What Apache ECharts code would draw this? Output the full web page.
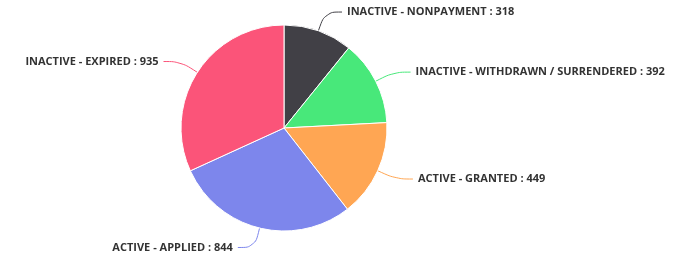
<!DOCTYPE html>
<html>
<head>
<meta charset="utf-8">
<script src="https://cdn.jsdelivr.net/npm/echarts@6/dist/echarts.min.js"></script>
<style>
  html, body { margin: 0; padding: 0; background: #fff; }
  #main { width: 682px; height: 260px; }
</style>
</head>
<body>
<div id="main"></div>
<script>
var categories = [
  "INACTIVE - NONPAYMENT",
  "INACTIVE - WITHDRAWN / SURRENDERED",
  "ACTIVE - GRANTED",
  "ACTIVE - APPLIED",
  "INACTIVE - EXPIRED"
];
var values = [318, 392, 449, 844, 935];
var colors = ["#414046", "#48e87a", "#ffa653", "#7d86ec", "#fb5479"];

var chart = echarts.init(document.getElementById("main"), null, { renderer: "canvas" });

var data = categories.map(function (name, i) {
  return { name: name, value: values[i], itemStyle: { color: colors[i] } };
});

var option = {
  animation: false,
  series: [
    {
      type: "pie",
      center: [284, 128],
      radius: 103,
      startAngle: 90,
      clockwise: true,
      data: data,
      itemStyle: { borderColor: "#fff", borderWidth: 1 },
      label: {
        formatter: "{b} : {c}",
        fontFamily: "Open Sans",
        fontWeight: "bold",
        fontSize: 11,
        color: "#333"
      },
      labelLine: {
        length: 20,
        length2: 17,
        smooth: 0.4,
        lineStyle: { width: 1 }
      }
    }
  ]
};

chart.setOption(option);
window.addEventListener("resize", chart.resize);
</script>
</body>
</html>
